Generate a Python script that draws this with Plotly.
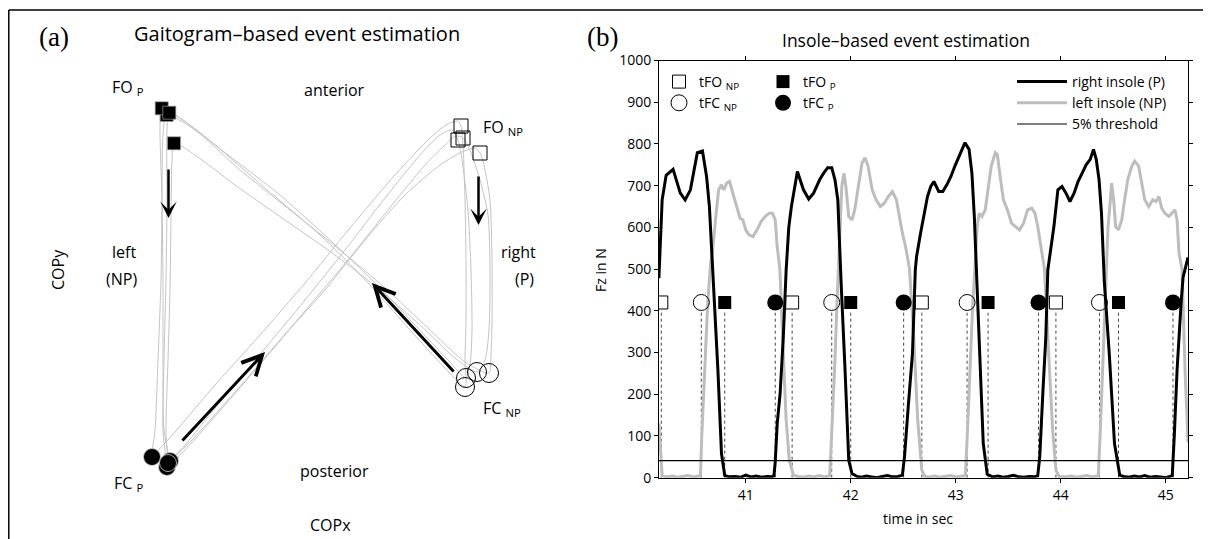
import plotly.graph_objects as go

# ---------------- (b) insole-based data ----------------
t_right = [40.173, 40.204, 40.242, 40.308, 40.377, 40.423, 40.473, 40.539, 40.588, 40.627, 40.654, 40.685, 40.735, 40.769, 40.800,
           40.85, 40.9, 40.95, 41.0, 41.05, 41.1, 41.15, 41.2, 41.25,
           41.269, 41.281, 41.300, 41.327, 41.358, 41.385, 41.41, 41.435, 41.492, 41.550, 41.600, 41.646, 41.704, 41.742, 41.781, 41.819, 41.850, 41.877, 41.89, 41.908, 41.946, 41.981, 42.012,
           42.06, 42.1, 42.15, 42.2, 42.25, 42.3, 42.35, 42.4, 42.45,
           42.492, 42.512, 42.550, 42.588, 42.615, 42.627, 42.665, 42.704, 42.731, 42.762, 42.792, 42.838, 42.877, 42.915, 42.954, 42.992, 43.031, 43.069, 43.088, 43.127, 43.154, 43.177, 43.196, 43.204, 43.235, 43.262, 43.300,
           43.35, 43.4, 43.45, 43.5, 43.55, 43.6, 43.65, 43.7, 43.75,
           43.781, 43.800, 43.831, 43.858, 43.877, 43.896, 43.935, 43.973, 44.012, 44.050, 44.088, 44.127, 44.165, 44.204, 44.242, 44.281, 44.312, 44.338, 44.365, 44.388, 44.408, 44.415, 44.462, 44.512, 44.562,
           44.6, 44.65, 44.7, 44.75, 44.8, 44.85, 44.9, 44.95, 45.0, 45.04,
           45.062, 45.081, 45.108, 45.146, 45.165, 45.212]
f_right = [478, 666, 725, 739, 682, 666, 690, 779, 783, 722, 650, 501, 258, 58, 5,
           2, 3, 1, 6, 2, 4, 1, 3, 2,
           5, 38, 130, 200, 338, 498, 600, 650, 734, 690, 668, 682, 714, 730, 743, 743, 714, 666, 560, 470, 258, 42, 10,
           3, 1, 4, 2, 0, 3, 5, 2, 3,
           6, 50, 178, 298, 498, 530, 586, 634, 674, 698, 710, 686, 686, 702, 722, 747, 771, 795, 803, 787, 730, 626, 505, 418, 218, 82, 8,
           2, 4, 1, 3, 6, 2, 1, 3, 2,
           5, 50, 210, 338, 498, 530, 602, 690, 698, 682, 662, 682, 710, 730, 750, 763, 787, 763, 714, 634, 505, 470, 298, 82, 6,
           3, 1, 4, 2, 5, 1, 3, 2, 0, 3,
           5, 98, 258, 418, 480, 528]

t_left = [40.173, 40.204, 40.25, 40.3, 40.35, 40.4, 40.45, 40.5, 40.55,
          40.569, 40.581, 40.608, 40.638, 40.665, 40.685, 40.715, 40.742, 40.769, 40.792, 40.819, 40.846, 40.877, 40.915, 40.946, 40.973, 41.0, 41.031, 41.069, 41.108, 41.146, 41.185, 41.223, 41.254, 41.281, 41.300, 41.325, 41.358, 41.385, 41.415, 41.454,
          41.5, 41.55, 41.6, 41.65, 41.7, 41.75,
          41.8, 41.819, 41.846, 41.869, 41.885, 41.896, 41.915, 41.935, 41.954, 41.981, 42.012, 42.038, 42.069, 42.108, 42.135, 42.165, 42.204, 42.242, 42.281, 42.319, 42.358, 42.396, 42.435, 42.465, 42.492, 42.523, 42.56, 42.600, 42.638, 42.677, 42.704,
          42.75, 42.8, 42.85, 42.9, 42.95, 43.0, 43.05,
          43.092, 43.112, 43.135, 43.162, 43.185, 43.204, 43.223, 43.250, 43.281, 43.308, 43.338, 43.377, 43.396, 43.423, 43.454, 43.492, 43.531, 43.569, 43.608, 43.646, 43.685, 43.723, 43.754, 43.781, 43.812, 43.845, 43.885, 43.923, 43.954, 43.985,
          44.05, 44.1, 44.15, 44.2, 44.25, 44.3, 44.34,
          44.358, 44.377, 44.404, 44.427, 44.442, 44.45, 44.465, 44.485, 44.504, 44.523, 44.550, 44.581, 44.608, 44.638, 44.677, 44.704, 44.742, 44.773, 44.800, 44.838, 44.877, 44.908, 44.935, 44.962, 44.992, 45.031, 45.062, 45.088, 45.108, 45.127, 45.155, 45.185, 45.212]
f_left = [130, 5, 2, 4, 1, 3, 5, 2, 3,
          5, 98, 258, 418, 514, 545, 626, 690, 702, 690, 706, 710, 682, 650, 622, 618, 594, 582, 578, 594, 614, 626, 634, 634, 618, 553, 500, 298, 138, 42, 6,
          3, 1, 4, 2, 5, 2,
          5, 98, 258, 418, 514, 586, 698, 730, 698, 626, 618, 642, 690, 755, 767, 747, 690, 666, 650, 658, 674, 686, 666, 618, 586, 553, 500, 338, 138, 18, 3,
          2, 4, 1, 3, 5, 2, 3,
          5, 114, 258, 418, 514, 602, 634, 626, 642, 690, 747, 779, 775, 722, 666, 642, 610, 602, 594, 610, 642, 646, 634, 602, 553, 500, 298, 114, 18, 3,
          2, 4, 1, 3, 5, 2, 3,
          5, 114, 298, 458, 514, 600, 642, 706, 666, 602, 594, 618, 666, 714, 747, 759, 747, 698, 666, 650, 666, 662, 674, 646, 634, 626, 634, 642, 618, 537, 500, 250, 85]

threshold = 41
t_range = [40.174, 45.212]
x_ticks = [41, 42, 43, 44, 45]
y_ticks = [0, 100, 200, 300, 400, 500, 600, 700, 800, 900, 1000]
event_level = 420
dotted_top = 402

tFO_NP = [40.196, 41.442, 42.677, 43.954]
tFC_NP = [40.577, 41.819, 43.108, 44.369]
tFO_P = [40.800, 42.000, 43.308, 44.550]
tFC_P = [41.281, 42.504, 43.788, 45.069]

# ---------------- (a) gaitogram data (COPx, COPy) ----------------
cop_x_1 = [-168, -145, -105, -60, -15, 30, 75, 110, 128, 138, 141, 143, 145, 146, 146, 145, 145,
           125, 90, 50, 0, -55, -105, -140, -158.3, -160, -158, -157, -157, -156, -150]
cop_y_1 = [83, 108, 155, 205, 257, 312, 365, 402, 416, 419, 414, 395, 340, 280, 220, 180, 153,
           172, 210, 255, 305, 352, 395, 422, 431.7, 415, 340, 260, 180, 110, 79]
cop_x_2 = [-150, -135, -100, -58, -15, 25, 65, 100, 120, 132, 138, 142, 148, 151, 152, 150, 146,
           128, 95, 55, 10, -40, -92, -130, -150.7, -153, -153, -154, -156, -157, -153]
cop_y_2 = [79, 95, 138, 188, 240, 290, 342, 385, 405, 410, 400, 380, 330, 270, 210, 175, 162,
           180, 215, 257, 300, 345, 385, 415, 427.3, 410, 340, 260, 180, 110, 73]
cop_x_3 = [-153, -135, -95, -52, -10, 32, 72, 105, 125, 136, 143, 150, 160, 168, 170, 169, 165, 157,
           135, 100, 60, 15, -35, -85, -125, -146, -148, -149, -150, -152, -154, -152]
cop_y_3 = [73, 90, 135, 185, 235, 285, 335, 375, 395, 404, 402, 390, 360, 325, 270, 210, 180, 168,
           182, 215, 250, 285, 320, 355, 385, 396.7, 380, 320, 250, 180, 110, 77]
cop_x_4 = [-152, -130, -85, -40, 5, 45, 85, 120, 142, 155, 160, 164, 170, 172, 172, 171, 169,
           145, 108, 65, 20, -30, -80, -125, -153.3, -157, -158, -159, -162, -165, -168]
cop_y_4 = [77, 98, 148, 200, 250, 300, 345, 375, 388, 392, 387, 375, 340, 280, 220, 185, 167,
           178, 212, 252, 290, 330, 370, 410, 425, 405, 340, 260, 180, 110, 88]
cop_cycles = [(cop_x_1, cop_y_1), (cop_x_2, cop_y_2), (cop_x_3, cop_y_3), (cop_x_4, cop_y_4)]

FC_P_x = [-168, -150, -153, -152]
FC_P_y = [83, 79, 73, 77]
FO_NP_x = [141, 138, 143, 160]
FO_NP_y = [414, 400, 402, 387]
FC_NP_x = [145, 146, 157, 169]
FC_NP_y = [153, 162, 168, 167]
FO_P_x = [-153.3, -158.3, -150.7, -146]
FO_P_y = [425, 431.7, 427.3, 396.7]

# direction arrows: (tail_x, tail_y, head_x, head_y, head style)
arrows = [(-151.5, 372, -151.5, 322, 3),
          (158.5, 365, 158.5, 315, 3),
          (-139, 98, -55, 188, 5),
          (135, 167, 52, 257, 5)]

FONT = "Open Sans"
W, H = 1211, 539
OFF = 8  # the page body offsets the figure by this many pixels

fig = go.Figure()

# ---- (a) traces ----
for cx, cy in cop_cycles:
    fig.add_trace(go.Scatter(x=cx, y=cy, mode="lines", xaxis="x2", yaxis="y2",
                             line=dict(color="#c4c4c4", width=1, shape="spline", smoothing=0.7),
                             showlegend=False, hoverinfo="skip"))
fig.add_trace(go.Scatter(x=FO_P_x, y=FO_P_y, mode="markers", xaxis="x2", yaxis="y2", showlegend=False,
                         marker=dict(symbol="square", size=13, color="black", line=dict(color="#999", width=0.7))))
fig.add_trace(go.Scatter(x=FC_P_x, y=FC_P_y, mode="markers", xaxis="x2", yaxis="y2", showlegend=False,
                         marker=dict(symbol="circle", size=17, color="black", line=dict(color="#d0d0d0", width=0.8))))
fig.add_trace(go.Scatter(x=FO_NP_x, y=FO_NP_y, mode="markers", xaxis="x2", yaxis="y2", showlegend=False,
                         marker=dict(symbol="square-open", size=14, color="black", line=dict(width=1))))
fig.add_trace(go.Scatter(x=FC_NP_x, y=FC_NP_y, mode="markers", xaxis="x2", yaxis="y2", showlegend=False,
                         marker=dict(symbol="circle-open", size=19, color="black", line=dict(width=1))))

# ---- (b) traces ----
dx, dy = [], []
for t in tFO_NP + tFC_NP + tFO_P + tFC_P:
    dx += [t, t, None]
    dy += [0, dotted_top, None]
fig.add_trace(go.Scatter(x=dx, y=dy, mode="lines", line=dict(color="#444", width=1, dash="dot"),
                         showlegend=False, hoverinfo="skip"))
fig.add_trace(go.Scatter(x=t_left, y=f_left, mode="lines", name="left insole (NP)",
                         line=dict(color="#bdbdbd", width=3), legend="legend", legendrank=2))
fig.add_trace(go.Scatter(x=t_right, y=f_right, mode="lines", name="right insole (P)",
                         line=dict(color="black", width=3), legend="legend", legendrank=1))
fig.add_trace(go.Scatter(x=t_range, y=[threshold, threshold], mode="lines", name="5% threshold",
                         line=dict(color="black", width=1.2), legend="legend", legendrank=3))
fig.add_trace(go.Scatter(x=tFO_NP, y=[event_level] * len(tFO_NP), mode="markers", name="tFO <sub>NP</sub>",
                         marker=dict(symbol="square-open", size=13, color="black", line=dict(width=1)),
                         legend="legend2", legendrank=1))
fig.add_trace(go.Scatter(x=tFC_NP, y=[event_level] * len(tFC_NP), mode="markers", name="tFC <sub>NP</sub>",
                         marker=dict(symbol="circle-open", size=16, color="black", line=dict(width=1)),
                         legend="legend2", legendrank=2))
fig.add_trace(go.Scatter(x=tFO_P, y=[event_level] * len(tFO_P), mode="markers", name="tFO <sub>P</sub>",
                         marker=dict(symbol="square", size=13, color="black"),
                         legend="legend3", legendrank=1))
fig.add_trace(go.Scatter(x=tFC_P, y=[event_level] * len(tFC_P), mode="markers", name="tFC <sub>P</sub>",
                         marker=dict(symbol="circle", size=16, color="black"),
                         legend="legend3", legendrank=2))

def px(x):
    return (x - OFF) / W

def py(y):
    return 1 - (y - OFF) / H

axis_common = dict(showline=True, linecolor="black", linewidth=1, ticks="outside", ticklen=4,
                   tickcolor="black", mirror="ticks", showgrid=False, zeroline=False, automargin=False,
                   tickfont=dict(family=FONT, size=14, color="black"))

leg_common = dict(bgcolor="rgba(0,0,0,0)", borderwidth=0, font=dict(family=FONT, size=14, color="black"),
                  yanchor="top", tracegroupgap=0, itemclick=False)

fig.update_layout(
    width=W, height=H, autosize=False, margin=dict(l=0, r=0, t=0, b=0, pad=0, autoexpand=False),
    paper_bgcolor="white", plot_bgcolor="white",
    font=dict(family=FONT, color="black"),
    xaxis=dict(domain=[px(659), px(1188)], range=t_range, tickvals=x_ticks, anchor="y", **axis_common),
    yaxis=dict(domain=[py(477.7), py(60.5)], range=[0, 1000], tickvals=y_ticks, anchor="x", **axis_common),
    xaxis2=dict(domain=[px(8), px(580)], range=[-312, 260], visible=False, anchor="y2"),
    yaxis2=dict(domain=[py(539), py(10)], range=[1, 530], visible=False, anchor="x2"),
    legend=dict(x=px(1172), xanchor="right", y=py(66), itemwidth=50, **leg_common),
    legend2=dict(x=px(659), xanchor="left", y=py(66), itemwidth=30, **leg_common),
    legend3=dict(x=px(763), xanchor="left", y=py(66), itemwidth=30, **leg_common),
    showlegend=True,
)

# frame lines
fig.add_shape(type="line", xref="paper", yref="paper", x0=px(8.8), x1=1, y0=py(10), y1=py(10),
              line=dict(color="black", width=1.5))
fig.add_shape(type="line", xref="paper", yref="paper", x0=px(8.8), x1=px(8.8), y0=0, y1=py(10),
              line=dict(color="black", width=1.5))

# arrows in panel (a)
for tx, ty, hx, hy, head in arrows:
    fig.add_annotation(x=hx, y=hy, ax=tx, ay=ty, xref="x2", yref="y2", axref="x2", ayref="y2",
                       text="", showarrow=True, arrowhead=head, arrowsize=1.3 if head == 5 else 1.1,
                       arrowwidth=3 if head == 5 else 2.5, arrowcolor="black")

# labels in panel (a)
labels_a = [("FO <sub>P</sub>", -192, 452), ("anterior", 14, 450), ("FO <sub>NP</sub>", 183, 412),
            ("left", -196, 288), ("(NP)", -199, 261), ("right", 198, 288), ("(P)", 204, 261),
            ("FC <sub>NP</sub>", 182, 132), ("FC <sub>P</sub>", -191, 57), ("posterior", 14, 69),
            ("COPx", 10, 15)]
for txt, x, y in labels_a:
    fig.add_annotation(x=x, y=y, xref="x2", yref="y2", text=txt, showarrow=False,
                       xanchor="center", yanchor="middle",
                       font=dict(family=FONT, size=16, color="black"))
fig.add_annotation(x=-262, y=270, xref="x2", yref="y2", text="COPy", showarrow=False, textangle=-90,
                   xanchor="center", yanchor="middle", font=dict(family=FONT, size=16, color="black"))
fig.add_annotation(x=-23, y=506, xref="x2", yref="y2", text="Gaitogram\u2013based event estimation",
                   xanchor="center", yanchor="middle",
                   showarrow=False, font=dict(family=FONT, size=20, color="black"))
fig.add_annotation(x=-266, y=503, xref="x2", yref="y2", text="(a)", showarrow=False,
                   xanchor="center", yanchor="middle",
                   font=dict(family="Liberation Serif", size=27, color="black"))

# labels for panel (b)
paper_labels = [("(b)", 602, 37, "Liberation Serif", 27, 0),
                ("Insole\u2013based event estimation", 906, 40, FONT, 17.5, 0),
                ("Fz in N", 600, 270, FONT, 14, -90),
                ("time in sec", 918, 518, FONT, 14, 0)]
for txt, x, y, fam, size, ang in paper_labels:
    fig.add_annotation(x=px(x), y=py(y), xref="paper", yref="paper", text=txt, textangle=ang,
                       xanchor="center", yanchor="middle", showarrow=False,
                       font=dict(family=fam, size=size, color="black"))

fig.write_html("out.html", config={"responsive": False})
